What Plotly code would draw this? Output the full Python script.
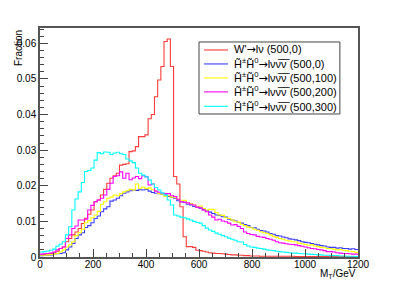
import numpy as np
import plotly.graph_objects as go

# 100 bins of 12 GeV from 0 to 1200 GeV
bin_lo, bin_hi, n_bins = 0, 1200, 100

ARROW = '<span style="font-family:DejaVu Sans">→</span>'
labels = [
    "W'" + ARROW + "lν (500,0)",
    "H̃<sup>±</sup>H̃<sup>0</sup>" + ARROW + "lνν̅ν̅ (500,0)",
    "H̃<sup>±</sup>H̃<sup>0</sup>" + ARROW + "lνν̅ν̅ (500,100)",
    "H̃<sup>±</sup>H̃<sup>0</sup>" + ARROW + "lνν̅ν̅ (500,200)",
    "H̃<sup>±</sup>H̃<sup>0</sup>" + ARROW + "lνν̅ν̅ (500,300)",
]
colors = ["#ff3b3b", "#3b3bff", "#ffff00", "#ff00ff", "#00ffff"]

wprime_500_0 = [
    0.0006, 0.0007, 0.0008, 0.0010, 0.0012, 0.0016, 0.0024, 0.0028, 0.0043, 0.0052,
    0.0062, 0.0070, 0.0080, 0.0094, 0.0109, 0.0120, 0.0132, 0.0155, 0.0160, 0.0174,
    0.0190, 0.0207, 0.0221, 0.0228, 0.0235, 0.0258, 0.0260, 0.0262, 0.0296, 0.0298,
    0.0310, 0.0338, 0.0338, 0.0343, 0.0388, 0.0400, 0.0450, 0.0497, 0.0535, 0.0605,
    0.0612, 0.0535, 0.0226, 0.0205, 0.0141, 0.0057, 0.0029, 0.0029, 0.0027, 0.0019,
    0.0018, 0.0016, 0.0014, 0.0012, 0.0011, 0.0010, 0.0010, 0.0009, 0.0008, 0.0007,
    0.0006, 0.0006, 0.0005, 0.0005, 0.0004, 0.0004, 0.0003, 0.0003, 0.0003, 0.0002,
    0.0002, 0.0002, 0.0002, 0.0002, 0.0002, 0.0002, 0.0002, 0.0002, 0.0002, 0.0002,
    0.0001, 0.0001, 0.0001, 0.0001, 0.0001, 0.0001, 0.0001, 0.0001, 0.0001, 0.0001,
    0.0001, 0.0001, 0.0001, 0.0001, 0.0001, 0.0001, 0.0001, 0.0001, 0.0001, 0.0001,
]

hh_500_0 = [
    0.0004, 0.0005, 0.0005, 0.0006, 0.0008, 0.0009, 0.0010, 0.0012, 0.0020, 0.0028,
    0.0038, 0.0052, 0.0062, 0.0068, 0.0083, 0.0088, 0.0096, 0.0108, 0.0115, 0.0127,
    0.0135, 0.0141, 0.0157, 0.0160, 0.0165, 0.0172, 0.0179, 0.0183, 0.0186, 0.0188,
    0.0187, 0.0189, 0.0188, 0.0190, 0.0185, 0.0181, 0.0179, 0.0178, 0.0176, 0.0174,
    0.0170, 0.0167, 0.0165, 0.0158, 0.0155, 0.0153, 0.0148, 0.0146, 0.0142, 0.0139,
    0.0137, 0.0133, 0.0130, 0.0126, 0.0122, 0.0118, 0.0117, 0.0113, 0.0112, 0.0106,
    0.0104, 0.0101, 0.0097, 0.0095, 0.0091, 0.0088, 0.0083, 0.0082, 0.0078, 0.0074,
    0.0073, 0.0070, 0.0066, 0.0064, 0.0060, 0.0059, 0.0056, 0.0054, 0.0051, 0.0050,
    0.0048, 0.0046, 0.0043, 0.0041, 0.0040, 0.0038, 0.0036, 0.0034, 0.0032, 0.0031,
    0.0028, 0.0027, 0.0027, 0.0025, 0.0026, 0.0024, 0.0024, 0.0022, 0.0023, 0.0021,
]

hh_500_100 = [
    0.0005, 0.0005, 0.0006, 0.0007, 0.0008, 0.0010, 0.0014, 0.0020, 0.0028, 0.0034,
    0.0043, 0.0060, 0.0068, 0.0078, 0.0096, 0.0102, 0.0110, 0.0118, 0.0128, 0.0148,
    0.0155, 0.0165, 0.0168, 0.0174, 0.0172, 0.0178, 0.0183, 0.0186, 0.0190, 0.0188,
    0.0205, 0.0193, 0.0196, 0.0192, 0.0194, 0.0189, 0.0185, 0.0178, 0.0176, 0.0170,
    0.0172, 0.0168, 0.0168, 0.0162, 0.0158, 0.0159, 0.0152, 0.0150, 0.0146, 0.0141,
    0.0143, 0.0136, 0.0132, 0.0134, 0.0133, 0.0125, 0.0118, 0.0117, 0.0110, 0.0108,
    0.0104, 0.0099, 0.0098, 0.0092, 0.0088, 0.0084, 0.0082, 0.0078, 0.0075, 0.0071,
    0.0068, 0.0066, 0.0062, 0.0058, 0.0055, 0.0052, 0.0050, 0.0047, 0.0045, 0.0043,
    0.0042, 0.0039, 0.0037, 0.0035, 0.0033, 0.0034, 0.0031, 0.0029, 0.0027, 0.0026,
    0.0024, 0.0023, 0.0022, 0.0020, 0.0021, 0.0019, 0.0018, 0.0016, 0.0015, 0.0013,
]

hh_500_200 = [
    0.0008, 0.0009, 0.0010, 0.0011, 0.0014, 0.0020, 0.0024, 0.0028, 0.0052, 0.0062,
    0.0080, 0.0087, 0.0104, 0.0104, 0.0106, 0.0132, 0.0145, 0.0155, 0.0160, 0.0165,
    0.0174, 0.0190, 0.0207, 0.0226, 0.0228, 0.0239, 0.0221, 0.0235, 0.0217, 0.0222,
    0.0226, 0.0220, 0.0228, 0.0225, 0.0202, 0.0205, 0.0185, 0.0182, 0.0179, 0.0178,
    0.0178, 0.0172, 0.0170, 0.0162, 0.0155, 0.0154, 0.0152, 0.0148, 0.0146, 0.0140,
    0.0138, 0.0132, 0.0127, 0.0118, 0.0112, 0.0104, 0.0106, 0.0101, 0.0099, 0.0095,
    0.0090, 0.0091, 0.0086, 0.0080, 0.0070, 0.0066, 0.0063, 0.0062, 0.0058, 0.0056,
    0.0055, 0.0052, 0.0050, 0.0047, 0.0043, 0.0040, 0.0039, 0.0037, 0.0036, 0.0035,
    0.0034, 0.0032, 0.0030, 0.0028, 0.0026, 0.0024, 0.0023, 0.0021, 0.0020, 0.0018,
    0.0015, 0.0015, 0.0014, 0.0012, 0.0011, 0.0010, 0.0010, 0.0009, 0.0008, 0.0008,
]

hh_500_300 = [
    0.0014, 0.0015, 0.0017, 0.0019, 0.0022, 0.0030, 0.0036, 0.0043, 0.0062, 0.0085,
    0.0132, 0.0163, 0.0183, 0.0209, 0.0240, 0.0243, 0.0250, 0.0272, 0.0293, 0.0290,
    0.0295, 0.0294, 0.0288, 0.0292, 0.0294, 0.0290, 0.0288, 0.0275, 0.0270, 0.0265,
    0.0250, 0.0235, 0.0230, 0.0225, 0.0216, 0.0205, 0.0195, 0.0188, 0.0180, 0.0174,
    0.0160, 0.0146, 0.0118, 0.0115, 0.0112, 0.0110, 0.0107, 0.0104, 0.0100, 0.0097,
    0.0095, 0.0088, 0.0081, 0.0076, 0.0072, 0.0067, 0.0064, 0.0060, 0.0057, 0.0053,
    0.0050, 0.0047, 0.0043, 0.0042, 0.0035, 0.0031, 0.0028, 0.0027, 0.0025, 0.0024,
    0.0022, 0.0020, 0.0019, 0.0018, 0.0016, 0.0015, 0.0014, 0.0013, 0.0012, 0.0011,
    0.0011, 0.0010, 0.0009, 0.0009, 0.0008, 0.00075, 0.0007, 0.0006, 0.0006, 0.0005,
    0.0005, 0.0004, 0.0004, 0.0004, 0.0003, 0.0003, 0.0002, 0.0002, 0.0002, 0.0001,
]

series = [wprime_500_0, hh_500_0, hh_500_100, hh_500_200, hh_500_300]

edges = np.linspace(bin_lo, bin_hi, n_bins + 1)
FONT = "Liberation Sans, Arial, Helvetica, sans-serif"

fig = go.Figure()
for vals, col, lab in zip(series, colors, labels):
    y = list(vals) + [vals[-1]]
    fig.add_trace(go.Scatter(
        x=edges, y=y, mode="lines", line=dict(color=col, width=1.1, shape="hv"),
        name=lab, showlegend=False, hoverinfo="skip"))

# Legend (ROOT style box)
leg_x0, leg_x1, leg_y0, leg_y1 = 0.50, 0.943, 0.6245, 0.939
fig.add_shape(type="rect", xref="paper", yref="paper",
              x0=leg_x0, x1=leg_x1, y0=leg_y0, y1=leg_y1,
              line=dict(color="#444", width=1), fillcolor="white", layer="above")
row_y = [0.904, 0.843, 0.782, 0.721, 0.658]
for yy, col, lab in zip(row_y, colors, labels):
    fig.add_shape(type="line", xref="paper", yref="paper",
                  x0=0.516, x1=0.591, y0=yy, y1=yy,
                  line=dict(color=col, width=1.1), layer="above")
    fig.add_annotation(xref="paper", yref="paper", x=0.603, y=yy,
                       xanchor="left", yanchor="middle", text=lab, showarrow=False,
                       font=dict(family=FONT, size=11, color="black"))

fig.add_annotation(xref="paper", yref="paper", x=1.0, y=-0.038,
                   xanchor="right", yanchor="top", text="M<sub>T</sub>/GeV",
                   showarrow=False, font=dict(family=FONT, size=10, color="black"))
fig.add_annotation(xref="paper", yref="paper", x=-0.069, y=1.0,
                   xanchor="center", yanchor="top", text="Fraction", textangle=-90,
                   showarrow=False, font=dict(family=FONT, size=10, color="black"))

axis_common = dict(showgrid=False, zeroline=False, showline=True, mirror=True,
                   linecolor="#555", linewidth=1.5, ticks="inside",
                   tickcolor="#444", tickwidth=1, automargin=False,
                   tickfont=dict(family=FONT, size=10, color="black"))
fig.update_xaxes(range=[bin_lo, bin_hi], tickmode="linear", tick0=0, dtick=200,
                 ticklen=8, ticklabelstandoff=-3,
                 minor=dict(dtick=50, ticklen=4, ticks="inside", tickcolor="#444"),
                 **axis_common)
fig.update_yaxes(range=[0, 0.0643], tickmode="linear", tick0=0, dtick=0.01,
                 ticklen=8, minor=dict(dtick=0.002, ticklen=4, ticks="inside", tickcolor="#444"),
                 **axis_common)

# the page body adds an 8px offset, so the figure is drawn 8px smaller
fig.update_layout(width=391, height=278, margin=dict(l=32, r=41, t=20, b=29, autoexpand=False),
                  paper_bgcolor="white", plot_bgcolor="white",
                  font=dict(family=FONT, size=10, color="black"))

fig.write_html("out.html")
